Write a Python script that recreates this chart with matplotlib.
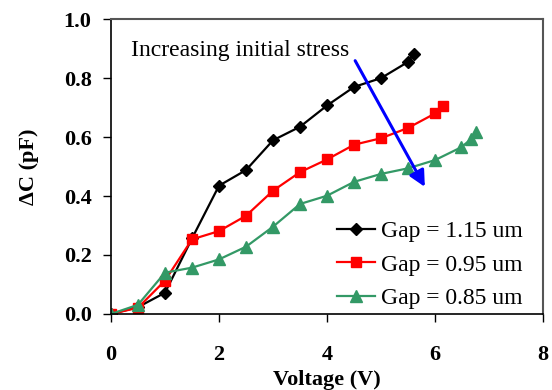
import matplotlib
matplotlib.use("Agg")
import matplotlib.pyplot as plt

plt.rcParams['font.family'] = ['Liberation Serif', 'DejaVu Serif']

v_115 = [0, 0.5, 1.0, 1.5, 2.0, 2.5, 3.0, 3.5, 4.0, 4.5, 5.0, 5.5, 5.6]
c_115 = [0, 0.023, 0.072, 0.256, 0.435, 0.488, 0.589, 0.635, 0.707, 0.770, 0.800, 0.855, 0.881]

v_095 = [0, 0.5, 1.0, 1.5, 2.0, 2.5, 3.0, 3.5, 4.0, 4.5, 5.0, 5.5, 6.0, 6.15]
c_095 = [0, 0.021, 0.113, 0.253, 0.281, 0.333, 0.418, 0.481, 0.524, 0.574, 0.596, 0.631, 0.680, 0.706]

v_085 = [0, 0.5, 1.0, 1.5, 2.0, 2.5, 3.0, 3.5, 4.0, 4.5, 5.0, 5.5, 6.0, 6.48, 6.66, 6.76]
c_085 = [0, 0.031, 0.140, 0.157, 0.185, 0.228, 0.296, 0.373, 0.401, 0.448, 0.475, 0.494, 0.522, 0.565, 0.592, 0.616]

labels = ['Gap = 1.15 um', 'Gap = 0.95 um', 'Gap = 0.85 um']
xticks = [0, 2, 4, 6, 8]
yticks = [0.0, 0.2, 0.4, 0.6, 0.8, 1.0]

fig = plt.figure(figsize=(5.52, 3.90), dpi=100)
ax = fig.add_axes([0.201, 0.195, 0.783, 0.756])

ax.plot(v_115, c_115, color='black', marker='D', markersize=6.5, lw=1.6, label=labels[0])
ax.plot(v_095, c_095, color='#ff0000', marker='s', markersize=7.5, lw=1.6, label=labels[1])
ax.plot(v_085, c_085, color='#339966', marker='^', markersize=8.5, lw=1.6, label=labels[2])

ax.set_xlim(0, 8)
ax.set_ylim(0, 1.0)
ax.set_xticks(xticks)
ax.set_yticks(yticks)
ax.set_xticklabels([str(t) for t in xticks], fontsize=16, fontweight='bold')
ax.set_yticklabels([f'{t:.1f}' for t in yticks], fontsize=16, fontweight='bold')
ax.tick_params(direction='out', length=6, width=1)
ax.tick_params(axis='x', pad=16)
ax.tick_params(axis='y', pad=8)
for s in ['top', 'right']:
    ax.spines[s].set_color('#555555')
    ax.spines[s].set_linewidth(1.5)
for s in ['left', 'bottom']:
    ax.spines[s].set_color('black')
    ax.spines[s].set_linewidth(1.2)

ax.set_xlabel('Voltage (V)', fontsize=16, fontweight='bold', labelpad=4)
ax.set_ylabel('ΔC (pF)', fontsize=16, fontweight='bold', labelpad=18)

ax.text(0.38, 0.895, 'Increasing initial stress', fontsize=17, va='center', ha='left')
ax.annotate('', xy=(5.81, 0.431), xytext=(4.52, 0.859),
            arrowprops=dict(arrowstyle='-|>', color='#0000ff', lw=2.2,
                            mutation_scale=24, shrinkA=0, shrinkB=0))

ax.legend(loc='lower right', bbox_to_anchor=(0.975, -0.015), frameon=False,
          fontsize=17, handlelength=1.6, handletextpad=0.25, labelspacing=0.5,
          borderaxespad=0.0)

fig.savefig('out.png', dpi=100)
